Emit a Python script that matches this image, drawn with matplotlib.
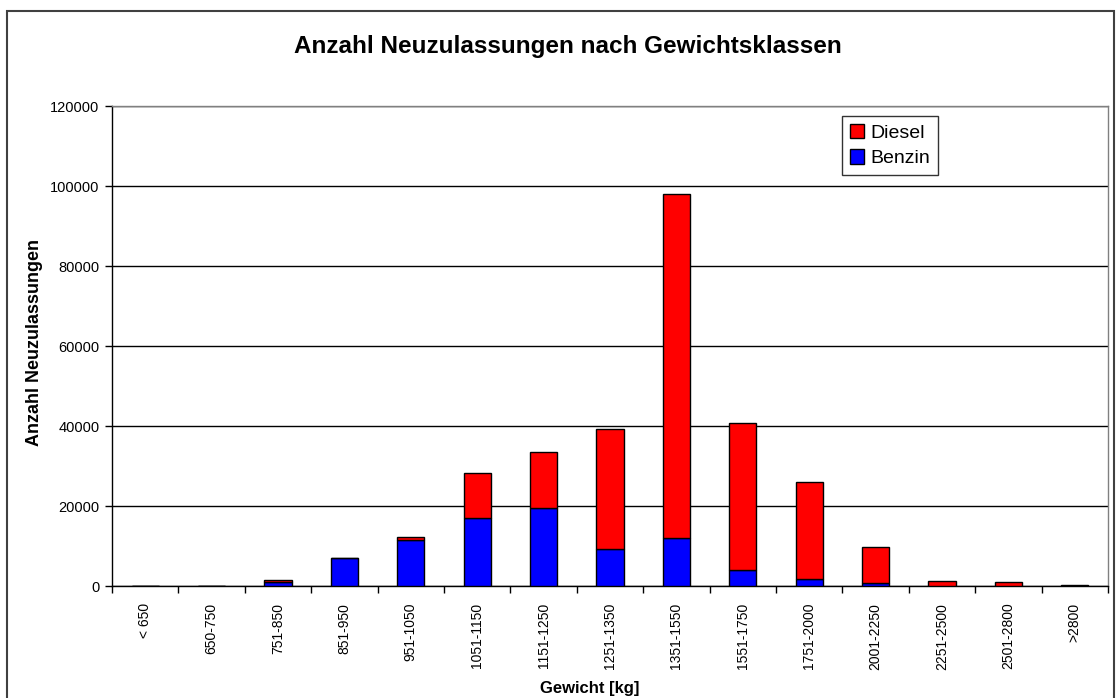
import matplotlib
matplotlib.use("Agg")
import matplotlib.pyplot as plt
from matplotlib.patches import Rectangle, Patch
import numpy as np

plt.rcParams['font.family'] = ['Liberation Sans', 'DejaVu Sans']

categories = ["< 650", "650-750", "751-850", "851-950", "951-1050", "1051-1150",
              "1151-1250", "1251-1350", "1351-1550", "1551-1750", "1751-2000",
              "2001-2250", "2251-2500", "2501-2800", ">2800"]
benzin = [0, 0, 1050, 6900, 11600, 16900, 19600, 9300, 11900, 4000, 1700, 700, 100, 30, 0]
diesel = [0, 0, 350, 100, 700, 11300, 13800, 30000, 86100, 36700, 24400, 9100, 1200, 870, 150]
yticks = [0, 20000, 40000, 60000, 80000, 100000, 120000]

W, H = 1117, 698
fig = plt.figure(figsize=(W / 100, H / 100), dpi=100)
ax = fig.add_axes([112 / W, 1 - 586 / H, (1108 - 112) / W, (586 - 106) / H])

x = np.arange(len(categories))
bw = 0.41
ax.bar(x, benzin, width=bw, color='#0000FF', edgecolor='black', linewidth=1.0, zorder=3)
ax.bar(x, diesel, width=bw, bottom=benzin, color='#FF0000', edgecolor='black', linewidth=1.0, zorder=3)

ax.set_xlim(-0.5, len(categories) - 0.5)
ax.set_ylim(0, 120000)
ax.set_yticks(yticks)
ax.set_yticklabels([str(v) for v in yticks], fontsize=10.5)
ax.yaxis.grid(True, color='black', linewidth=1.0, zorder=0)
ax.set_axisbelow(True)

ax.set_xticks(x)
ax.set_xticklabels(categories, rotation=90, fontsize=10, va='top')
ax.tick_params(axis='x', which='major', length=0, pad=12)
ax.set_xticks(np.arange(-0.5, len(categories), 1.0), minor=True)
ax.tick_params(axis='x', which='minor', length=5, width=1, direction='out', color='black')
ax.tick_params(axis='y', length=5, width=1, direction='out', pad=4)

for s in ['top', 'right']:
    ax.spines[s].set_color('#808080')
    ax.spines[s].set_linewidth(1.0)
for s in ['left', 'bottom']:
    ax.spines[s].set_color('black')
    ax.spines[s].set_linewidth(1.0)

fig.text(35 / W, 1 - 342 / H, "Anzahl Neuzulassungen", rotation=90, ha='center', va='center',
         fontsize=13, fontweight='bold')
fig.text(590 / W, 1 - 688 / H, "Gewicht [kg]", ha='center', va='center',
         fontsize=12, fontweight='bold')
fig.text(568 / W, 1 - 47 / H, "Anzahl Neuzulassungen nach Gewichtsklassen",
         ha='center', va='center', fontsize=17.5, fontweight='bold')

handles = [Patch(facecolor='#FF0000', edgecolor='black', label='Diesel'),
           Patch(facecolor='#0000FF', edgecolor='black', label='Benzin')]
leg = ax.legend(handles=handles, loc='upper left',
                bbox_to_anchor=((842 - 112) / (1108 - 112), 1 - (116 - 106) / (586 - 106)),
                fontsize=14, frameon=True, fancybox=False, shadow=False,
                handlelength=0.75, handleheight=0.75, handletextpad=0.3,
                borderpad=0.4, labelspacing=0.4, borderaxespad=0)
leg.get_frame().set_edgecolor('black')
leg.get_frame().set_linewidth(1.0)
leg.set_zorder(5)

# outer chart border
fig.patches.append(Rectangle((7 / W, -0.01), (1114 - 7) / W, (H - 11) / H + 0.01,
                             transform=fig.transFigure, fill=False,
                             edgecolor='#404040', linewidth=1.5))

fig.savefig("out.png", dpi=100)
